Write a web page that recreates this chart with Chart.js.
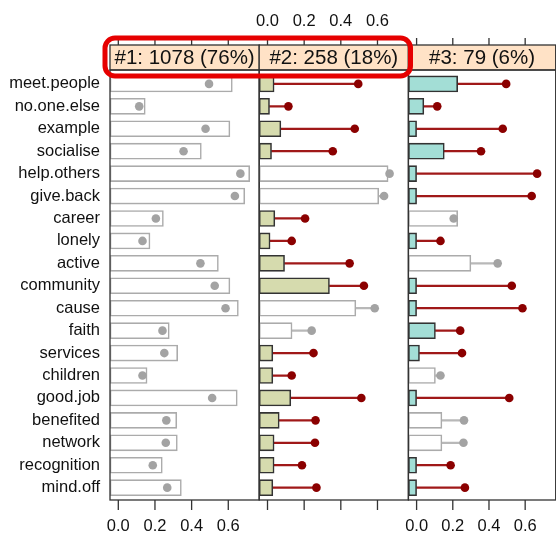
<!DOCTYPE html>
<html>
<head>
<meta charset="utf-8">
<script src="https://cdn.jsdelivr.net/npm/chart.js@4.4.1/dist/chart.umd.min.js"></script>
<style>
  body { margin: 0; background: #fff; width: 556px; height: 534px; position: relative; overflow: hidden; }
  canvas { position: absolute; left: 0; top: 0; }
</style>
</head>
<body>
<canvas id="p1" width="560" height="534"></canvas>
<canvas id="p2" width="560" height="534"></canvas>
<canvas id="p3" width="560" height="534"></canvas>
<script>
// data
const categories = ["meet.people", "no.one.else", "example", "socialise", "help.others", "give.back",
  "career", "lonely", "active", "community", "cause", "faith", "services", "children", "good.job",
  "benefited", "network", "recognition", "mind.off"];
const overall = [0.495, 0.114, 0.476, 0.356, 0.666, 0.636, 0.205, 0.132, 0.448, 0.526, 0.585,
  0.241, 0.251, 0.132, 0.512, 0.262, 0.259, 0.188, 0.267];
const cluster1 = [0.622, 0.147, 0.609, 0.453, 0.717, 0.690, 0.246, 0.173, 0.546, 0.609, 0.655,
  0.278, 0.324, 0.157, 0.649, 0.319, 0.322, 0.240, 0.344];
const cluster2 = [0.036, 0.011, 0.073, 0.022, 0.658, 0.607, 0.040, 0.014, 0.093, 0.338, 0.482,
  0.134, 0.029, 0.029, 0.127, 0.064, 0.036, 0.036, 0.029];
const cluster3 = [0.227, 0.040, 0.0, 0.153, 0.0, 0.0, 0.227, 0.0, 0.300, 0.0, 0.0,
  0.104, 0.016, 0.104, 0.0, 0.140, 0.140, 0.0, 0.0];
const sig1 = categories.map(() => false);
const sig2 = [true, true, true, true, false, false, true, true, true, true, false,
  false, true, true, true, true, true, true, true];
const sig3 = [true, true, true, true, true, true, false, true, false, true, true,
  true, true, false, true, false, false, true, true];
const stripLabels = ["#1: 1078 (76%)", "#2: 258 (18%)", "#3: 79 (6%)"];
const tickValues = [0, 0.2, 0.4, 0.6];

// layout
const XMIN = -0.0453, XMAX = 0.7687;
const YMIN = -0.62, YMAX = 18.55;
const TOP = 70, BOTTOM = 500, STRIP_TOP = 45;
const panelLeft = [110, 259.2, 408.4];
const panelWidth = 149.2;
const CW = 560;
const sigFill = ["#ffffff", "#d6dbae", "#a3ded6"];
const FONT = "'Liberation Sans', Arial, sans-serif";
Chart.defaults.font.family = FONT;

const decoPlugin = {
  id: "deco",
  afterDatasetsDraw(chart, args, opts) {
    const ctx = chart.ctx;
    const { left, right, top, bottom } = chart.chartArea;
    const xs = chart.scales.x;
    ctx.save();
    // strip
    ctx.fillStyle = "#ffe2c6";
    ctx.fillRect(left, STRIP_TOP, right - left, top - STRIP_TOP);
    ctx.strokeStyle = "#333";
    ctx.lineWidth = 1.3;
    ctx.strokeRect(left, STRIP_TOP, right - left, top - STRIP_TOP);
    ctx.fillStyle = "#111";
    ctx.font = "20.5px " + FONT;
    ctx.textAlign = "center";
    ctx.textBaseline = "middle";
    ctx.fillText(opts.label, (left + right) / 2, (STRIP_TOP + top) / 2 + 1);
    // frame
    ctx.strokeRect(left, top, right - left, bottom - top);
    // ticks
    ctx.beginPath();
    tickValues.forEach(v => {
      const px = xs.getPixelForValue(v);
      ctx.moveTo(px, STRIP_TOP - 7); ctx.lineTo(px, STRIP_TOP);
      ctx.moveTo(px, bottom); ctx.lineTo(px, bottom + 10);
    });
    ctx.stroke();
    ctx.font = "16.5px " + FONT;
    ctx.fillStyle = "#111";
    tickValues.forEach(v => {
      const px = xs.getPixelForValue(v);
      if (opts.bottomLabels) ctx.fillText(v.toFixed(1), px, 526);
      if (opts.topLabels) ctx.fillText(v.toFixed(1), px, 21);
    });
    if (opts.highlight) {
      ctx.strokeStyle = "#e60000";
      ctx.lineWidth = 5;
      ctx.beginPath();
      ctx.roundRect(105, 38, 305.5, 38, 10);
      ctx.stroke();
    }
    ctx.restore();
  }
};

function makePanel(id, k, values, sig) {
  const fill = sig.map(s => s ? sigFill[k] : "#ffffff");
  const edge = sig.map(s => s ? "#333333" : "#ababab");
  const mark = sig.map(s => s ? "#8b0000" : "#a3a3a3");
  const lineCol = sig.map(s => s ? "#a01818" : "#b8b8b8");
  const left = panelLeft[k];
  const right = left + panelWidth;
  const first = k === 0;

  return new Chart(document.getElementById(id), {
    type: "bar",
    data: {
      datasets: [
        {
          type: "scatter",
          data: overall.map((m, i) => ({ x: m, y: i })),
          pointRadius: 4.3,
          pointBackgroundColor: mark,
          pointBorderWidth: 0,
          order: 0
        },
        {
          indexAxis: "y",
          grouped: false,
          data: values.map((v, i) => ({ x: [XMIN, v], y: i })),
          backgroundColor: fill,
          borderColor: edge,
          borderWidth: 1.6,
          borderSkipped: false,
          barThickness: 16,
          order: 1
        },
        {
          indexAxis: "y",
          grouped: false,
          data: values.map((v, i) => ({ x: overall[i] > v ? [v, overall[i]] : null, y: i })),
          backgroundColor: lineCol,
          borderWidth: 0,
          barThickness: 1.6,
          order: 2
        }
      ]
    },
    options: {
      responsive: false,
      animation: false,
      layout: { padding: { top: TOP, bottom: 534 - BOTTOM, left: first ? 0 : left, right: CW - right } },
      plugins: {
        legend: { display: false },
        tooltip: { enabled: false },
        deco: { label: stripLabels[k], bottomLabels: k !== 1, topLabels: k === 1, highlight: k === 2 }
      },
      scales: {
        x: { type: "linear", min: XMIN, max: XMAX, offset: false, grid: { offset: false }, display: false },
        y: {
          type: "linear",
          min: YMIN, max: YMAX,
          reverse: true,
          offset: false,
          display: first,
          grid: { display: false, offset: false, drawTicks: false },
          border: { display: false },
          afterBuildTicks: s => { s.ticks = categories.map((c, i) => ({ value: i })); },
          afterFit: s => { if (first) s.width = 110; },
          ticks: {
            autoSkip: false,
            padding: 10,
            color: "#111",
            font: { size: 16.5 },
            callback: v => categories[v]
          }
        }
      }
    },
    plugins: [decoPlugin]
  });
}

makePanel("p1", 0, cluster1, sig1);
makePanel("p2", 1, cluster2, sig2);
makePanel("p3", 2, cluster3, sig3);
</script>
</body>
</html>
